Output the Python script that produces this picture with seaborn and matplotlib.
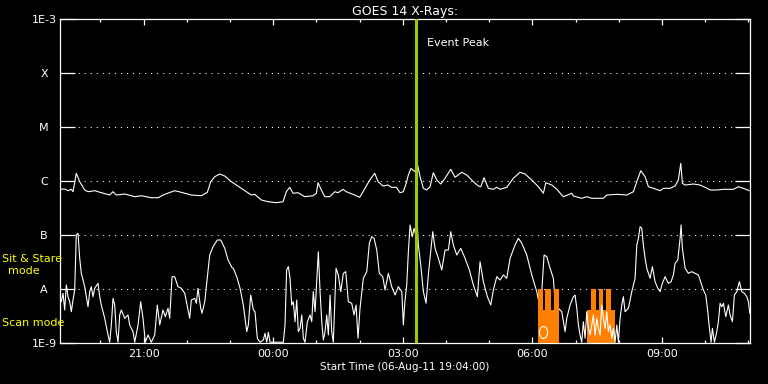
import numpy as np
import seaborn as sns
import matplotlib.pyplot as plt
from matplotlib.path import Path
from matplotlib.ticker import NullLocator
from matplotlib.transforms import Affine2D


# ---------------------------------------------------------------------
# Data: hours after 19:04 UT (06-Aug-11), log10 of X-ray flux (W/m^2)
# ---------------------------------------------------------------------

long_hours = [
    0.016, 0.109, 0.185, 0.262, 0.301, 0.377, 0.456, 0.572, 0.648, 0.803,
    0.956, 1.150, 1.227, 1.303, 1.498, 1.729, 1.882, 2.113, 2.269, 2.424,
    2.655, 2.808, 3.039, 3.271, 3.410, 3.488, 3.581, 3.697, 3.813, 3.965,
    4.197, 4.428, 4.507, 4.660, 4.815, 5.007, 5.162, 5.238, 5.317, 5.394,
    5.509, 5.664, 5.856, 5.933, 5.972, 6.049, 6.127, 6.243, 6.359, 6.435,
    6.551, 6.627, 6.782, 6.937, 7.014, 7.169, 7.285, 7.361, 7.477, 7.593,
    7.669, 7.785, 7.870, 7.947, 8.016, 8.063, 8.125, 8.164, 8.218, 8.271,
    8.333, 8.410, 8.488, 8.565, 8.641, 8.720, 8.813, 8.912, 9.044, 9.144,
    9.299, 9.414, 9.567, 9.683, 9.738, 9.815, 9.914, 10.030, 10.109, 10.185,
    10.340, 10.493, 10.648, 10.764, 10.919, 11.072, 11.188, 11.243, 11.382, 11.498,
    11.650, 11.845, 11.882, 12.076, 12.192, 12.308, 12.576, 12.655, 12.887, 13.118,
    13.271, 13.363, 13.442, 13.542, 13.618, 13.734, 13.889, 13.965, 14.120, 14.236,
    14.312, 14.368, 14.405, 14.468, 14.660, 14.815, 14.931, 15.046, 15.201, 15.354,
    15.586, 15.701, 15.817, 15.956,
]
long_logflux = [
    -6.148, -6.143, -6.174, -6.148, -6.193, -5.852, -6.007, -6.161, -6.193, -6.174,
    -6.211, -6.254, -6.193, -6.254, -6.235, -6.285, -6.267, -6.304, -6.304, -6.241,
    -6.174, -6.204, -6.254, -6.267, -6.204, -6.007, -5.915, -5.865, -5.902, -6.007,
    -6.130, -6.254, -6.241, -6.346, -6.378, -6.396, -6.378, -6.193, -6.111, -6.222,
    -6.211, -6.285, -6.267, -6.222, -6.026, -6.161, -6.285, -6.285, -6.193, -6.211,
    -6.148, -6.193, -6.241, -6.296, -6.193, -5.976, -5.852, -6.007, -6.087, -6.069,
    -6.111, -6.111, -6.211, -6.193, -6.026, -5.883, -5.759, -5.791, -5.822, -5.680,
    -5.915, -6.130, -6.161, -6.100, -5.841, -5.976, -6.050, -5.944, -5.778, -5.926,
    -5.833, -5.883, -6.007, -6.087, -6.100, -5.933, -6.130, -6.148, -6.111, -6.148,
    -6.111, -5.944, -5.833, -5.865, -5.976, -6.100, -6.222, -6.026, -6.069, -6.148,
    -6.285, -6.222, -6.272, -6.315, -6.285, -6.315, -6.315, -6.254, -6.241, -6.254,
    -6.193, -5.976, -5.804, -5.915, -6.100, -6.130, -6.174, -6.130, -6.130, -6.087,
    -5.976, -5.667, -6.037, -6.069, -6.050, -6.069, -6.111, -6.161, -6.161, -6.148,
    -6.148, -6.100, -6.130, -6.174,
]

short_hours = [
    0.030, 0.069, 0.109, 0.146, 0.185, 0.225, 0.262, 0.301, 0.340, 0.377,
    0.417, 0.456, 0.493, 0.572, 0.648, 0.688, 0.725, 0.764, 0.803, 0.880,
    0.919, 0.956, 1.035, 1.111, 1.150, 1.188, 1.227, 1.266, 1.303, 1.343,
    1.382, 1.419, 1.498, 1.574, 1.613, 1.690, 1.729, 1.806, 1.868, 1.921,
    1.975, 2.037, 2.113, 2.192, 2.252, 2.308, 2.384, 2.438, 2.500, 2.539,
    2.593, 2.655, 2.731, 2.808, 2.887, 2.963, 3.002, 3.039, 3.118, 3.155,
    3.194, 3.257, 3.287, 3.350, 3.387, 3.465, 3.542, 3.641, 3.720, 3.813,
    3.889, 3.981, 4.012, 4.090, 4.167, 4.243, 4.322, 4.359, 4.414, 4.475,
    4.514, 4.567, 4.630, 4.706, 4.745, 4.785, 4.822, 4.861, 5.016, 5.169,
    5.208, 5.245, 5.285, 5.324, 5.363, 5.400, 5.440, 5.479, 5.516, 5.556,
    5.595, 5.632, 5.671, 5.725, 5.787, 5.826, 5.863, 5.903, 5.979, 6.019,
    6.058, 6.095, 6.134, 6.174, 6.211, 6.250, 6.289, 6.326, 6.389, 6.442,
    6.498, 6.558, 6.613, 6.674, 6.752, 6.806, 6.852, 6.898, 6.944, 7.021,
    7.100, 7.160, 7.215, 7.269, 7.331, 7.391, 7.470, 7.523, 7.600, 7.678,
    7.755, 7.831, 7.910, 7.947, 7.979, 8.025, 8.063, 8.102, 8.155, 8.194,
    8.234, 8.271, 8.294, 8.350, 8.410, 8.472, 8.525, 8.581, 8.627, 8.681,
    8.757, 8.836, 8.912, 8.988, 9.044, 9.104, 9.183, 9.275, 9.375, 9.475,
    9.567, 9.660, 9.722, 9.799, 9.891, 9.970, 10.030, 10.109, 10.185, 10.262,
    10.340, 10.417, 10.532, 10.609, 10.688, 10.803, 10.919, 11.035, 11.111, 11.150,
    11.204, 11.266, 11.343, 11.419, 11.458, 11.498, 11.535, 11.613, 11.690, 11.729,
    11.806, 11.882, 11.921, 11.961, 11.998, 12.037, 12.076, 12.113, 12.153, 12.192,
    12.229, 12.269, 12.345, 12.384, 12.424, 12.461, 12.500, 12.539, 12.576, 12.616,
    12.655, 12.692, 12.731, 12.771, 12.808, 12.847, 12.887, 12.924, 12.963, 13.002,
    13.039, 13.079, 13.155, 13.234, 13.310, 13.350, 13.387, 13.426, 13.465, 13.502,
    13.542, 13.581, 13.657, 13.711, 13.773, 13.836, 13.889, 13.942, 14.005, 14.081,
    14.144, 14.197, 14.236, 14.299, 14.352, 14.375, 14.405, 14.468, 14.544, 14.623,
    14.699, 14.775, 14.838, 14.891, 14.947, 14.993, 15.023, 15.069, 15.100, 15.146,
    15.201, 15.238, 15.278, 15.317, 15.354, 15.410, 15.470, 15.509, 15.563, 15.609,
    15.664, 15.725, 15.780, 15.840, 15.896, 15.933, 15.965,
]
short_logflux = [
    -8.230, -8.074, -8.383, -7.920, -8.137, -8.230, -8.415, -8.198, -8.013, -6.994,
    -6.963, -7.426, -7.704, -7.952, -8.322, -8.044, -7.952, -8.137, -7.981, -7.889,
    -8.137, -8.291, -8.537, -8.846, -8.980, -8.661, -8.167, -8.291, -8.785, -8.980,
    -8.476, -8.383, -8.537, -8.476, -8.661, -8.785, -8.980, -8.661, -8.230, -8.537,
    -8.980, -8.846, -8.980, -8.846, -8.291, -8.661, -8.383, -8.507, -8.352, -8.537,
    -7.767, -7.767, -7.952, -7.981, -8.074, -8.383, -8.537, -8.198, -8.167, -8.259,
    -7.981, -8.352, -8.444, -8.230, -7.952, -7.365, -7.211, -7.087, -7.087, -7.241,
    -7.457, -7.600, -7.611, -7.767, -7.981, -8.291, -8.785, -8.661, -8.106, -8.383,
    -8.415, -8.907, -8.980, -8.939, -8.815, -8.980, -8.796, -8.980, -8.980, -8.980,
    -8.661, -7.643, -7.581, -7.796, -8.291, -8.230, -8.600, -8.198, -8.785, -8.722,
    -8.476, -8.907, -8.980, -8.600, -8.476, -8.600, -8.044, -8.415, -7.304, -8.044,
    -8.600, -8.939, -8.785, -8.476, -8.846, -8.106, -8.785, -8.980, -7.611, -7.735,
    -8.044, -7.704, -7.674, -8.230, -8.259, -8.476, -8.291, -8.907, -8.352, -7.796,
    -7.674, -7.148, -7.026, -7.056, -7.272, -7.704, -7.767, -8.013, -7.704, -7.952,
    -8.106, -7.952, -8.044, -8.661, -8.259, -7.920, -7.304, -6.809, -7.026, -6.870,
    -6.994, -6.809, -7.180, -7.550, -8.044, -8.259, -7.735, -7.304, -6.933, -7.241,
    -7.426, -7.643, -7.272, -7.272, -6.933, -7.180, -7.365, -7.241, -7.426, -7.643,
    -7.920, -8.137, -7.489, -7.859, -8.137, -8.291, -8.013, -7.767, -7.828, -7.735,
    -7.796, -7.426, -7.180, -7.056, -7.148, -7.365, -7.735, -8.044, -8.352, -8.044,
    -7.365, -7.396, -7.611, -7.796, -8.230, -8.600, -8.352, -8.415, -8.785, -8.537,
    -8.291, -8.137, -8.106, -8.352, -8.661, -8.846, -8.980, -8.600, -8.907, -8.415,
    -8.722, -8.846, -8.476, -8.846, -8.537, -8.722, -8.846, -8.291, -8.537, -8.722,
    -8.415, -8.785, -8.661, -8.907, -8.722, -8.980, -8.661, -8.980, -8.537, -8.291,
    -8.137, -8.415, -8.352, -8.044, -7.796, -7.180, -7.056, -6.841, -6.870, -7.180,
    -7.426, -7.611, -7.796, -7.581, -7.859, -7.981, -8.044, -7.889, -7.767, -7.889,
    -7.859, -7.735, -7.519, -7.457, -7.056, -6.809, -7.241, -7.611, -7.704, -7.674,
    -7.704, -7.735, -7.889, -8.013, -8.106, -8.415, -8.661, -8.980, -8.722, -8.980,
    -8.785, -8.600, -8.259, -8.322, -8.259, -8.507, -8.291, -8.476, -8.600, -8.106,
    -8.044, -7.859, -8.044, -8.074, -8.137, -8.230, -8.444,
]

# scan-mode bars: step edges (hours) and the top of each step (log10 flux)
scan1_edges = [11.058, 11.169, 11.227, 11.370, 11.428, 11.551]
scan1_levels = [-8.0, -8.383, -8.0, -8.383, -8.0]
scan2_edges = [12.206, 12.292, 12.400, 12.477, 12.576, 12.646, 12.755, 12.847]
scan2_levels = [-8.383, -8.0, -8.383, -8.0, -8.383, -8.0, -8.383]

event_peak_hour = 8.24
marker_hour = 11.188
marker_logflux = -8.79

level_ticks = [1e-9, 1e-8, 1e-7, 1e-6, 1e-5, 1e-4, 1e-3]
level_labels = ["1E-9", "A", "B", "C", "M", "X", "1E-3"]
hour_ticks = [1.933, 4.933, 7.933, 10.933, 13.933]
hour_labels = ["21:00", "00:00", "03:00", "06:00", "09:00"]

ORANGE = "#FF8000"
YELLOW = "#FFFF00"
GREEN = "#9ACD00"


def main():
    sns.set_theme(style="dark")
    plt.rcParams["font.family"] = ["DejaVu Sans"]

    fig = plt.figure(figsize=(7.68, 3.84), dpi=100, facecolor="black")
    ax = fig.add_axes([60 / 768, 1 - 343.3 / 384, 690 / 768, 324 / 384])
    ax.set_facecolor("black")

    # dotted class levels
    for lv in level_ticks[1:-1]:
        ax.axhline(lv, color="white", lw=0.75, ls=(0, (1, 4.8)), zorder=0.5)

    # scan-mode bars (second group sits under the curve)
    ax.fill_between(
        scan2_edges, 1e-9, 10 ** np.array(scan2_levels + [scan2_levels[-1]]),
        step="post", color=ORANGE, lw=0, zorder=1.5,
    )

    sns.lineplot(x=long_hours, y=10 ** np.array(long_logflux), ax=ax,
                 color="white", lw=0.8, estimator=None, sort=False, zorder=2)
    sns.lineplot(x=short_hours, y=10 ** np.array(short_logflux), ax=ax,
                 color="white", lw=0.8, estimator=None, sort=False, zorder=2)

    ax.fill_between(
        scan1_edges, 1e-9, 10 ** np.array(scan1_levels + [scan1_levels[-1]]),
        step="post", color=ORANGE, lw=0, zorder=3,
    )

    ellipse = Path.unit_circle().transformed(Affine2D().scale(0.68, 1.0))
    ax.plot([marker_hour], [10 ** marker_logflux], ls="none", marker=ellipse,
            ms=8.6, mfc="none", mec="white", mew=0.8, zorder=4)

    ax.axvline(event_peak_hour, color=GREEN, lw=2.2, zorder=4)
    ax.text(8.49, 10 ** -3.44, "Event Peak", color="white", fontsize=8,
            ha="left", va="center")

    ax.set_yscale("log")
    ax.set_ylim(1e-9, 1e-3)
    ax.set_xlim(0, 15.97)

    ax.set_yticks(level_ticks, level_labels)
    ax.yaxis.set_minor_locator(NullLocator())
    ax.set_xticks(hour_ticks, hour_labels)
    ax.set_xticks(np.arange(0.933, 16, 1.0), minor=True)

    ax.tick_params(axis="both", which="both", direction="in", colors="white",
                   labelcolor="white", labelsize=8, width=0.9,
                   bottom=True, top=True, left=True, right=True)
    ax.tick_params(axis="x", which="major", length=4.3, pad=4)
    ax.tick_params(axis="x", which="minor", length=2.2)
    ax.tick_params(axis="y", which="major", length=10.5, pad=11.5)
    for label in ax.get_yticklabels():
        label.set_horizontalalignment("center")

    for spine in ax.spines.values():
        spine.set_visible(True)
        spine.set_color("white")
        spine.set_linewidth(0.9)

    ax.set_title("GOES 14 X-Rays:", color="white", fontsize=9, pad=3)
    ax.set_xlabel("Start Time (06-Aug-11 19:04:00)", color="white",
                  fontsize=7.5, labelpad=2)
    ax.set_ylabel("")

    fig.text(2 / 768, 1 - 259 / 384, "Sit & Stare", color=YELLOW,
             fontsize=8, ha="left", va="center")
    fig.text(24 / 768, 1 - 271 / 384, "mode", color=YELLOW,
             fontsize=8, ha="center", va="center")
    fig.text(2 / 768, 1 - 323.5 / 384, "Scan mode", color=YELLOW,
             fontsize=8, ha="left", va="center")

    fig.savefig("out.png", dpi=100, facecolor="black")
    plt.close(fig)


if __name__ == "__main__":
    main()
